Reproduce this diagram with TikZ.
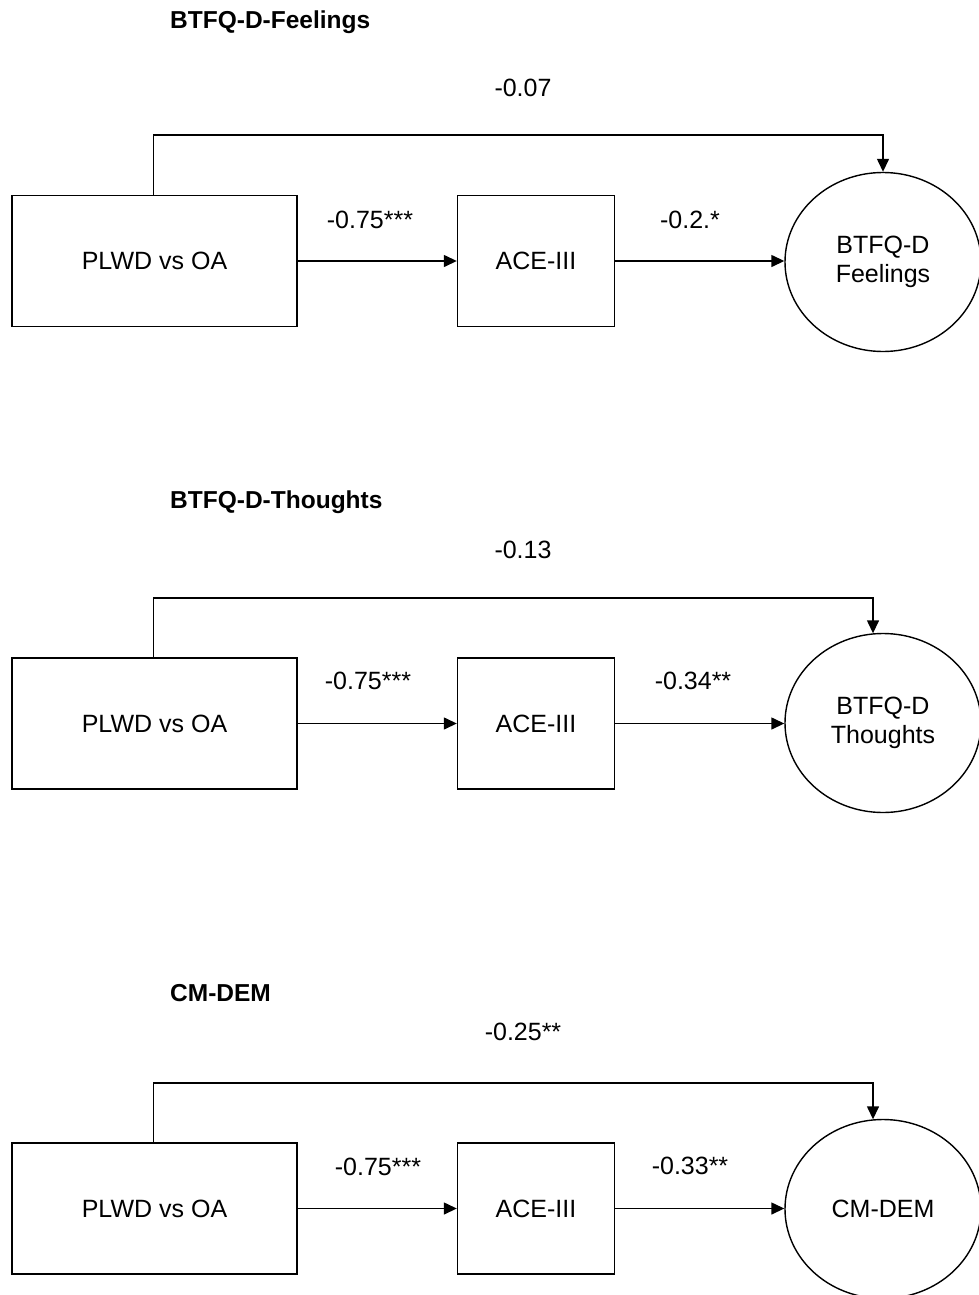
\documentclass[tikz,border=0pt]{standalone}
\usepackage{fontspec}
\setmainfont{Liberation Sans}
\usetikzlibrary{arrows.meta,shapes.geometric,calc}
\begin{document}
\begin{tikzpicture}[x=1pt,y=-1pt,
  every node/.style={font=\fontsize{25}{28.5}\selectfont, inner sep=0pt},
  varbox/.style={draw, line width=1.4pt, minimum height=131pt},
  bigbox/.style={varbox, minimum width=285pt},
  smallbox/.style={varbox, minimum width=157pt},
  outcome/.style={draw, ellipse, line width=1.4pt, minimum width=196pt, minimum height=179pt, align=center},
  title/.style={anchor=west, font=\fontsize{24.5}{28}\selectfont\bfseries},
  coef/.style={},
  conn/.style={line width=1.4pt, -{Triangle[length=13pt,width=12pt]}}]
\useasboundingbox (0,0) rectangle (979,1295);

% Panel 1
\node[title] (t1) at (170,22) {BTFQ-D-Feelings};
\node[bigbox] (p1) at (154.5,261) {PLWD vs OA};
\node[smallbox] (a1) at (536,261) {ACE-III};
\node[outcome] (e1) at (883,262) {BTFQ-D\\Feelings};
\node[coef] (c1) at (523,88) {-0.07};
\node[coef] (d1) at (370,220) {-0.75***};
\node[coef] (f1) at (690,220) {-0.2.*};
\draw[conn] (p1.east) -- (a1.west);
\draw[conn] (a1.east) -- (a1.east -| e1.west);
\draw[conn] ($(p1.north)+(-1,0)$) |- (883,135) -- (e1.north);

% Panel 2
\node[title] (t2) at (170,502) {BTFQ-D-Thoughts};
\node[bigbox] (p2) at (154.5,723.5) {PLWD vs OA};
\node[smallbox] (a2) at (536,723.5) {ACE-III};
\node[outcome] (e2) at (883,723) {BTFQ-D\\Thoughts};
\node[coef] (c2) at (523,550) {-0.13};
\node[coef] (d2) at (368,681) {-0.75***};
\node[coef] (f2) at (693,681) {-0.34**};
\draw[conn] (p2.east) -- (a2.west);
\draw[conn] (a2.east) -- (a2.east -| e2.west);
\coordinate (k2) at ($(e2.north)+(-10,0.5)$);
\draw[conn] ($(p2.north)+(-1,0)$) |- (k2 |- 0,598) -- (k2);

% Panel 3
\node[title] (t3) at (170,993) {CM-DEM};
\node[bigbox] (p3) at (154.5,1208.5) {PLWD vs OA};
\node[smallbox] (a3) at (536,1208.5) {ACE-III};
\node[outcome] (e3) at (883,1209) {CM-DEM};
\node[coef] (c3) at (523,1032) {-0.25**};
\node[coef] (d3) at (378,1167) {-0.75***};
\node[coef] (f3) at (690,1166) {-0.33**};
\draw[conn] (p3.east) -- (a3.west);
\draw[conn] (a3.east) -- (a3.east -| e3.west);
\coordinate (k3) at ($(e3.north)+(-10,0.5)$);
\draw[conn] ($(p3.north)+(-1,0)$) |- (k3 |- 0,1083) -- (k3);
\end{tikzpicture}
\end{document}
